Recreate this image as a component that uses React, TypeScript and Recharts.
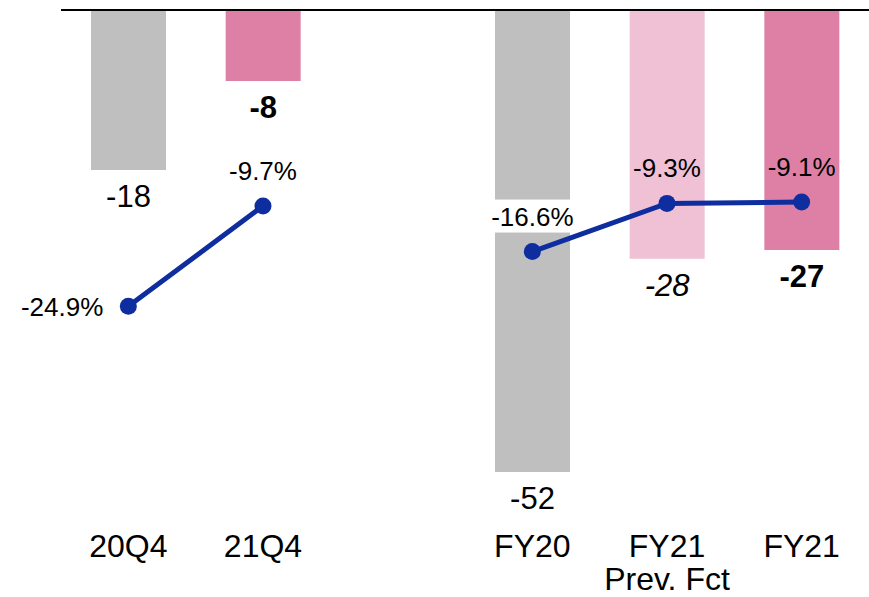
import { ComposedChart, Bar, Line, XAxis, YAxis, Cell, LabelList, ReferenceLine } from "recharts";

const categories = ["20Q4", "21Q4", "", "FY20", "FY21\nPrev. Fct", "FY21"];
const values = [-18, -8, null, -52, -28, -27];
const margins = [-24.9, -9.7, null, -16.6, -9.3, -9.1];

const BAR_COLORS = ["#bfbfbf", "#de80a5", "#ffffff", "#bfbfbf", "#f0c0d4", "#de80a5"];
const VALUE_STYLE = ["normal", "bold", "normal", "normal", "italic", "bold"];
const LINE_COLOR = "#0e2d9f";
const FONT = "'Liberation Sans', Arial, sans-serif";

const data = categories.map((name, i) => ({ name, value: values[i], pct: margins[i] }));

const renderTick = ({ x, y, payload }: any) => {
  const lines = String(payload.value).split("\n");
  return (
    <g>
      {lines.map((line, i) => (
        <text key={i} x={x} y={y + 85 + i * 33} textAnchor="middle" fontSize={32} fontFamily={FONT} fill="#000">
          {line}
        </text>
      ))}
    </g>
  );
};

const renderValue = ({ x, y, width, height, value }: any) => {
  if (value == null) return null;
  const bottom = Math.max(y, y + height);
  const style = VALUE_STYLE[values.indexOf(value)];
  return (
    <text
      x={x + width / 2}
      y={bottom + 37}
      textAnchor="middle"
      fontSize={31}
      fontFamily={FONT}
      fontWeight={style === "bold" ? "bold" : "normal"}
      fontStyle={style === "italic" ? "italic" : "normal"}
      fill="#000"
    >
      {value}
    </text>
  );
};

const renderPct = ({ x, y, value }: any) => {
  if (value == null) return null;
  const i = margins.indexOf(value);
  const label = `${value.toFixed(1)}%`;
  if (i === 0) {
    return (
      <text x={x - 25} y={y + 10} textAnchor="end" fontSize={26} fontFamily={FONT} fill="#000">
        {label}
      </text>
    );
  }
  return (
    <g>
      {i === 3 && <rect x={x - 44} y={y - 52} width={88} height={33} fill="#fff" />}
      <text x={x} y={y - 26} textAnchor="middle" fontSize={26} fontFamily={FONT} fill="#000">
        {label}
      </text>
    </g>
  );
};

export default function App() {
  return (
    <div style={{ position: "absolute", left: 0, top: 0, background: "#fff" }}>
      <ComposedChart width={869} height={597} data={data} margin={{ top: 10, right: 0, bottom: 0, left: 61 }}>
        <XAxis
          dataKey="name"
          axisLine={false}
          tickLine={false}
          tickSize={0}
          tickMargin={0}
          height={125}
          interval={0}
          tick={renderTick}
        />
        <YAxis yAxisId="val" hide domain={[-52, 0]} />
        <YAxis yAxisId="pct" hide orientation="right" domain={[-50, 20]} />
        <Bar yAxisId="val" dataKey="value" barSize={75} isAnimationActive={false}>
          {data.map((_, i) => (
            <Cell key={`cell-${i}`} fill={BAR_COLORS[i]} />
          ))}
          <LabelList dataKey="value" content={renderValue} />
        </Bar>
        <ReferenceLine yAxisId="val" y={0} stroke="#000" strokeWidth={2} ifOverflow="visible" />
        <Line
          yAxisId="pct"
          dataKey="pct"
          stroke={LINE_COLOR}
          strokeWidth={5}
          connectNulls={false}
          dot={{ r: 8.5, fill: LINE_COLOR, stroke: "none" }}
          isAnimationActive={false}
        >
          <LabelList dataKey="pct" content={renderPct} />
        </Line>
      </ComposedChart>
    </div>
  );
}
